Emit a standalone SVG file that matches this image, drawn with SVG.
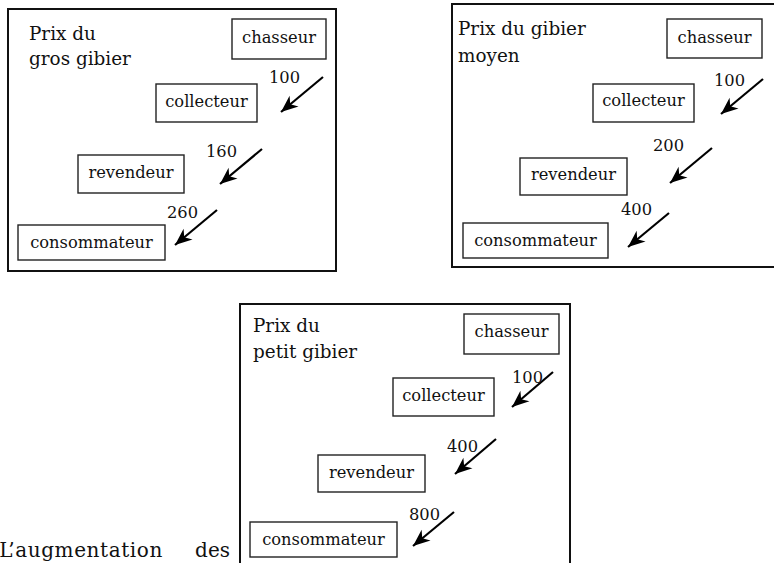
<svg xmlns="http://www.w3.org/2000/svg" width="774" height="563" viewBox="0 0 774 563">
<style>
  .frame { fill: none; stroke: #111; stroke-width: 2; }
  .box { fill: #fff; stroke: #222; stroke-width: 1.4; }
  .lbl { font-family: "DejaVu Serif", "Liberation Serif", serif; font-size: 16.3px; fill: #111; text-anchor: middle; }
  .num { font-family: "DejaVu Serif", "Liberation Serif", serif; font-size: 16.3px; fill: #111; }
  .title { font-family: "DejaVu Serif", "Liberation Serif", serif; font-size: 18.4px; fill: #111; }
  .body { font-family: "DejaVu Serif", "Liberation Serif", serif; font-size: 20px; fill: #111; }
  .arr { stroke: #000; stroke-width: 2.2; fill: none; marker-end: url(#head); }
</style>
<defs>
  <marker id="head" viewBox="-18 -8 19 16" refX="0" refY="0" markerWidth="19" markerHeight="16" markerUnits="userSpaceOnUse" orient="auto">
    <path d="M0,0 L-17,-7 L-12,0 L-17,7 Z" fill="#000"/>
  </marker>
</defs>

<rect class="frame" x="8" y="9" width="328" height="262"/>
<rect class="frame" x="452" y="4" width="340" height="263"/>
<rect class="frame" x="240" y="304" width="330" height="280"/>

<text class="title" x="29" y="40">Prix du</text>
<text class="title" x="29" y="65">gros gibier</text>
<text class="title" x="458" y="35">Prix du gibier</text>
<text class="title" x="458" y="62">moyen</text>
<text class="title" x="253" y="332">Prix du</text>
<text class="title" x="253" y="358">petit gibier</text>

<text class="body" x="163" y="557" text-anchor="end" letter-spacing="0.6">L’augmentation</text>
<text class="body" x="230" y="557" text-anchor="end">des</text>

<g id="p1-chasseur"><rect class="box" x="232" y="19" width="94" height="40"/><text class="lbl" x="279" y="43">chasseur</text></g>
<g id="p1-collecteur"><rect class="box" x="156" y="84" width="101" height="38"/><text class="lbl" x="206.5" y="107">collecteur</text></g>
<g id="p1-revendeur"><rect class="box" x="78" y="155" width="106" height="38"/><text class="lbl" x="131" y="178">revendeur</text></g>
<g id="p1-consommateur"><rect class="box" x="18" y="225" width="147" height="35"/><text class="lbl" x="91.5" y="248">consommateur</text></g>

<g id="p2-chasseur"><rect class="box" x="667" y="19" width="95" height="39"/><text class="lbl" x="714.5" y="43">chasseur</text></g>
<g id="p2-collecteur"><rect class="box" x="593" y="84" width="101" height="38"/><text class="lbl" x="643.5" y="106">collecteur</text></g>
<g id="p2-revendeur"><rect class="box" x="520" y="158" width="107" height="37"/><text class="lbl" x="573.5" y="180">revendeur</text></g>
<g id="p2-consommateur"><rect class="box" x="463" y="223" width="145" height="35"/><text class="lbl" x="535.5" y="246">consommateur</text></g>

<g id="p3-chasseur"><rect class="box" x="464" y="314" width="95" height="40"/><text class="lbl" x="511.5" y="337">chasseur</text></g>
<g id="p3-collecteur"><rect class="box" x="393" y="378" width="101" height="38"/><text class="lbl" x="443.5" y="401">collecteur</text></g>
<g id="p3-revendeur"><rect class="box" x="318" y="455" width="107" height="37"/><text class="lbl" x="371.5" y="478">revendeur</text></g>
<g id="p3-consommateur"><rect class="box" x="250" y="522" width="147" height="35"/><text class="lbl" x="323.5" y="545">consommateur</text></g>

<g id="connectors">
  <line class="arr" x1="323" y1="77" x2="281" y2="112"/>
  <line class="arr" x1="262" y1="149" x2="220" y2="184"/>
  <line class="arr" x1="217" y1="210" x2="175" y2="245"/>
  <line class="arr" x1="763" y1="79" x2="721" y2="114"/>
  <line class="arr" x1="712" y1="148" x2="670" y2="183"/>
  <line class="arr" x1="669" y1="213" x2="628" y2="247"/>
  <line class="arr" x1="553" y1="372" x2="512" y2="407"/>
  <line class="arr" x1="496" y1="439" x2="455" y2="474"/>
  <line class="arr" x1="454" y1="512" x2="413" y2="546"/>
  <text class="num" x="269" y="83">100</text>
  <text class="num" x="206" y="157">160</text>
  <text class="num" x="167" y="218">260</text>
  <text class="num" x="714" y="86">100</text>
  <text class="num" x="653" y="151">200</text>
  <text class="num" x="621" y="215">400</text>
  <text class="num" x="512" y="383">100</text>
  <text class="num" x="447" y="452">400</text>
  <text class="num" x="409" y="520">800</text>
</g>
</svg>
